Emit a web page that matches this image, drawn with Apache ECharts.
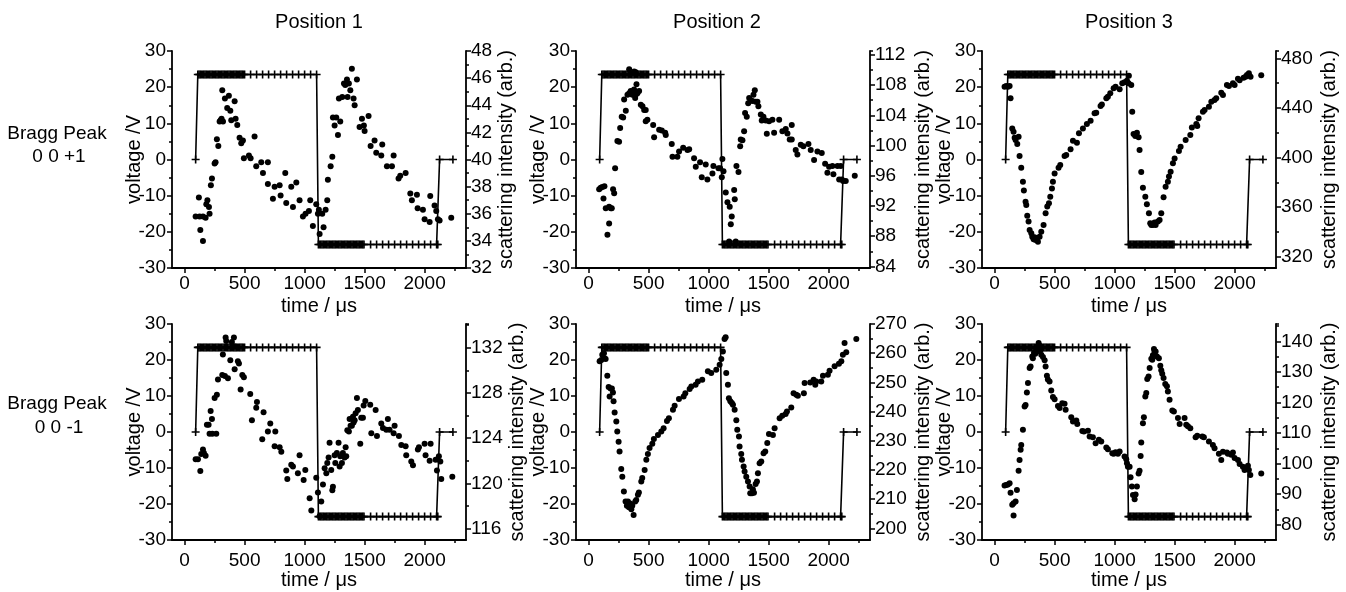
<!DOCTYPE html>
<html><head><meta charset="utf-8">
<script src="https://cdn.jsdelivr.net/npm/echarts@6/dist/echarts.min.js"></script>
<style>html,body{margin:0;padding:0;background:#fff}#c{width:1346px;height:592px}</style>
</head><body><div id="c"></div>
<script>
// ---- applied voltage (square wave, shared by all panels) ----
const voltTime = [92,110,120,130,140,150,160,170,180,190,200,210,220,230,240,250,260,270,280,290,300,310,320,330,340,350,360,370,380,390,400,410,420,430,440,450,460,470,480,490,500,550,600,650,700,750,800,850,900,950,1000,1050,1100,
1115,1125,1135,1145,1155,1165,1175,1185,1195,1205,1215,1225,1235,1245,1255,1265,1275,1285,1295,1305,1315,1325,1335,1345,1355,1365,1375,1385,1395,1405,1415,1425,1435,1445,1455,1465,1475,1485,1495,1550,1600,1650,1700,1750,1800,1850,1900,1950,2000,2050,2100,2110,2125,2236];
const voltValue = [0,23.5,23.5,23.5,23.5,23.5,23.5,23.5,23.5,23.5,23.5,23.5,23.5,23.5,23.5,23.5,23.5,23.5,23.5,23.5,23.5,23.5,23.5,23.5,23.5,23.5,23.5,23.5,23.5,23.5,23.5,23.5,23.5,23.5,23.5,23.5,23.5,23.5,23.5,23.5,23.5,23.5,23.5,23.5,23.5,23.5,23.5,23.5,23.5,23.5,23.5,23.5,23.5,
-23.5,-23.5,-23.5,-23.5,-23.5,-23.5,-23.5,-23.5,-23.5,-23.5,-23.5,-23.5,-23.5,-23.5,-23.5,-23.5,-23.5,-23.5,-23.5,-23.5,-23.5,-23.5,-23.5,-23.5,-23.5,-23.5,-23.5,-23.5,-23.5,-23.5,-23.5,-23.5,-23.5,-23.5,-23.5,-23.5,-23.5,-23.5,-23.5,-23.5,-23.5,-23.5,-23.5,-23.5,-23.5,-23.5,-23.5,-23.5,-23.5,-23.5,-23.5,-23.5,0,0];

// ---- tick labels ----
const timeTicks = [0,500,1000,1500,2000];
const timeMinorTicks = [250,750,1250,1750,2250];
const voltTicks = [-30,-20,-10,0,10,20,30];
const pos1UpTicks = [32,34,36,38,40,42,44,46,48];
const pos1UpMinor = [33,35,37,39,41,43,45,47];
const pos2UpTicks = [84,88,92,96,100,104,108,112];
const pos2UpMinor = [86,90,94,98,102,106,110];
const pos3UpTicks = [320,360,400,440,480];
const pos3UpMinor = [340,380,420,460];
const pos1DownTicks = [116,120,124,128,132];
const pos1DownMinor = [118,122,126,130,134];
const pos2DownTicks = [200,210,220,230,240,250,260,270];
const pos2DownMinor = [205,215,225,235,245,255,265];
const pos3DownTicks = [80,90,100,110,120,130,140];
const pos3DownMinor = [85,95,105,115,125,135,145];

const columnTitles = ['Position 1','Position 2','Position 3'];
const rowTitles = [['Bragg Peak','0 0 +1'],['Bragg Peak','0 0 -1']];

// ---- scattering intensity [time µs, intensity arb.] ----
const pos1Up = [[92,35.8],[119,37.2],[125,35.8],[131,34.8],[153,35.8],[153,34.0],[175,35.7],[181,36.7],[190,37.0],[203,36.5],[208,36.0],[219,38.1],[228,38.6],[250,39.7],[258,39.8],[269,41.5],[281,41.0],[292,42.8],[300,42.9],[308,43.0],[314,45.1],[320,42.8],[336,44.5],[355,43.8],[369,44.7],[381,43.6],[389,42.9],[417,44.3],[425,43.0],[439,42.55],[458,41.6],[472,41.2],[486,41.4],[494,40.1],[536,40.3],[550,40.1],[583,41.7],[597,39.5],[639,39.8],[653,39.0],[694,38.2],[694,39.8],[736,37.1],[750,38.0],[792,38.1],[800,37.35],[839,39.0],[847,36.8],[889,38.0],[903,36.5],[931,38.3],[958,37.0],[986,35.8],[1008,36.0],[1036,36.2],[1047,37.0],[1069,35.1],[1097,36.7],[1111,36.0],[1119,36.3],[1125,34.5],[1147,36.0],[1158,35.0],[1175,36.3],[1189,37.0],[1194,38.5],[1217,39.5],[1231,40.2],[1236,43.1],[1250,42.5],[1264,43.1],[1278,41.8],[1286,44.5],[1297,42.8],[1314,44.6],[1328,45.6],[1339,45.5],[1353,45.9],[1358,44.6],[1369,45.6],[1381,45.1],[1394,46.7],[1408,44.5],[1417,44.0],[1436,45.9],[1458,42.4],[1478,43.0],[1494,42.5],[1500,42.1],[1533,43.2],[1550,41.0],[1583,41.4],[1597,40.5],[1639,40.3],[1647,41.1],[1686,39.5],[1728,39.5],[1742,40.3],[1783,38.6],[1797,38.8],[1842,39.0],[1881,37.5],[1894,37.0],[1936,37.4],[1942,36.4],[1986,36.3],[2000,35.6],[2042,35.4],[2047,37.3],[2083,36.6],[2097,36.2],[2111,35.6],[2125,35.5],[2222,35.7]];

const pos2Up = [[88,94.2],[101,94.4],[115,94.5],[124,93.0],[132,94.6],[143,91.7],[157,88.2],[171,91.9],[171,89.7],[185,91.7],[193,91.7],[204,94.2],[213,93.7],[221,97.0],[240,100.6],[254,100.5],[263,102.3],[276,103.8],[288,103.7],[296,106.1],[310,104.6],[324,106.7],[338,106.9],[351,107.2],[365,106.7],[374,107.0],[379,107.4],[388,106.3],[393,106.7],[399,108.1],[407,106.9],[421,107.2],[435,105.4],[449,105.2],[463,104.7],[476,104.7],[476,103.2],[490,103.4],[338,110.1],[380,109.8],[393,109.7],[538,102.7],[546,101.1],[588,102.1],[610,102.0],[638,101.7],[643,101.4],[693,100.2],[699,98.5],[740,98.5],[754,99.2],[788,99.7],[824,99.4],[838,99.5],[879,98.3],[893,97.2],[929,97.8],[943,95.8],[976,97.5],[990,95.5],[1032,96.3],[1040,97.3],[1082,97.0],[1096,97.0],[1115,98.2],[1110,95.8],[1124,96.6],[1143,93.8],[1157,92.5],[1171,87.3],[1176,91.9],[1185,89.6],[1193,90.6],[1213,94.1],[1218,92.9],[1226,87.3],[1232,97.3],[1249,96.5],[1263,99.9],[1268,100.8],[1282,100.7],[1296,101.9],[1304,104.3],[1318,103.8],[1330,105.6],[1338,106.3],[1351,106.0],[1365,105.9],[1374,106.7],[1385,107.3],[1393,105.8],[1407,105.8],[1415,105.2],[1435,104.1],[1443,103.3],[1457,103.8],[1476,103.3],[1485,101.55],[1504,103.2],[1532,103.4],[1546,101.7],[1588,103.4],[1615,101.9],[1643,102.2],[1657,101.6],[1676,100.8],[1693,102.7],[1693,100.8],[1726,99.4],[1740,98.8],[1768,100.1],[1790,99.9],[1832,100.2],[1851,99.4],[1879,98.1],[1907,99.2],[1943,99.0],[1971,97.6],[1990,96.4],[2004,97.2],[2032,97.3],[2040,96.2],[2074,97.3],[2088,95.5],[2101,97.3],[2110,95.5],[2121,95.3],[2143,95.3],[2218,96.0]];

const pos3Up = [[83,457.2],[97,457.8],[111,457.2],[125,457.8],[133,447.8],[147,423.6],[158,420.9],[167,416.1],[175,414.2],[189,411.0],[200,416.9],[208,401.3],[222,391.9],[236,380.6],[244,373.4],[258,364.5],[264,361.8],[272,353.2],[283,348.4],[292,341.6],[306,339.0],[314,336.3],[325,334.1],[333,335.7],[342,333.6],[353,335.0],[361,332.2],[375,336.3],[389,340.3],[408,345.7],[425,355.1],[439,360.5],[453,363.2],[464,368.5],[478,375.2],[486,380.6],[500,387.3],[533,391.9],[547,394.0],[583,401.3],[597,402.1],[633,406.7],[653,413.7],[686,412.1],[703,419.6],[736,423.6],[769,427.1],[800,429.8],[833,435.7],[847,436.3],[883,441.6],[894,442.9],[931,447.8],[944,449.2],[964,451.9],[992,455.9],[1008,457.2],[1042,455.1],[1064,459.9],[1083,460.7],[1103,462.1],[1117,459.9],[1119,466.1],[1139,458.6],[1147,437.1],[1158,419.1],[1172,417.5],[1186,420.1],[1200,416.4],[1208,406.2],[1222,388.4],[1236,375.8],[1256,368.5],[1269,362.4],[1286,355.1],[1297,347.1],[1306,345.7],[1319,345.7],[1333,347.6],[1342,345.7],[1361,348.4],[1375,349.8],[1389,355.1],[1408,368.0],[1425,376.6],[1444,380.6],[1453,384.7],[1467,388.7],[1486,395.4],[1500,399.4],[1536,405.4],[1550,408.8],[1592,414.2],[1631,418.3],[1644,424.4],[1681,427.1],[1689,425.5],[1700,431.7],[1736,437.1],[1750,438.4],[1786,441.1],[1806,445.1],[1833,446.5],[1847,447.8],[1889,452.4],[1903,450.5],[1936,458.6],[1953,457.8],[1986,459.9],[2000,458.6],[2028,463.7],[2042,462.4],[2075,464.5],[2092,465.3],[2103,466.6],[2119,468.0],[2133,465.3],[2222,466.4]];

const pos1Down = [[92,122.15],[111,122.15],[131,121.1],[139,122.6],[153,123.0],[161,122.7],[175,122.45],[186,125.2],[200,125.2],[208,124.4],[217,126.4],[228,125.7],[231,124.4],[250,127.55],[264,124.4],[269,127.85],[278,129.2],[314,129.6],[319,131.4],[336,129.5],[342,132.9],[347,132.6],[361,129.3],[381,130.9],[394,132.5],[411,132.9],[417,132.1],[417,130.1],[444,130.8],[453,130.6],[467,128.3],[481,129.6],[494,129.4],[547,127.9],[561,125.6],[597,126.7],[603,127.2],[647,123.9],[658,126.3],[694,124.6],[714,125.3],[756,124.6],[750,123.3],[792,123.2],[806,122.8],[847,121.15],[856,120.4],[889,121.65],[903,121.5],[944,120.9],[958,122.5],[992,120.3],[1006,121.2],[1042,118.7],[1056,117.6],[1097,120.5],[1111,119.2],[1125,117.1],[1139,118.4],[1153,119.9],[1167,121.35],[1181,120.9],[1189,121.8],[1200,122.3],[1208,123.6],[1222,121.2],[1231,119.4],[1236,119.7],[1250,122.5],[1256,121.8],[1269,122.7],[1283,123.6],[1292,121.5],[1297,122.4],[1311,121.8],[1319,122.7],[1333,122.3],[1342,123.2],[1347,122.4],[1356,124.7],[1369,124.6],[1375,125.7],[1383,125.1],[1394,125.1],[1403,125.9],[1408,125.4],[1417,125.6],[1425,126.2],[1436,127.55],[1444,126.5],[1464,123.5],[1472,125.8],[1486,125.8],[1492,126.9],[1506,127.3],[1547,126.95],[1556,124.45],[1592,126.5],[1603,124.2],[1639,125.3],[1653,124.9],[1681,124.75],[1694,125.7],[1708,124.75],[1742,124.45],[1750,125.1],[1786,124.2],[1806,123.4],[1842,123.3],[1847,122.5],[1889,121.95],[1903,121.6],[1944,123.0],[1953,123.2],[2000,123.5],[2008,122.5],[2050,123.5],[2042,122.0],[2092,122.1],[2103,121.15],[2119,122.4],[2131,121.95],[2139,120.4],[2231,120.6]];

const pos2Down = [[92,257.2],[106,257.7],[114,259.5],[128,260.0],[133,258.3],[142,258.0],[156,252.3],[167,248.4],[175,245.2],[183,247.9],[194,247.9],[203,246.5],[208,243.5],[217,239.7],[231,236.6],[239,233.2],[250,229.7],[258,226.3],[272,220.3],[281,217.7],[294,212.6],[308,209.2],[319,207.7],[328,209.2],[336,207.2],[347,208.5],[356,206.5],[364,207.7],[375,204.6],[389,209.2],[397,209.7],[411,211.5],[419,212.3],[439,216.0],[447,217.2],[467,220.0],[481,223.5],[494,225.5],[508,227.5],[531,229.0],[544,230.6],[578,232.0],[606,233.2],[625,234.3],[653,236.8],[669,237.75],[703,240.6],[717,242.0],[753,244.3],[792,245.2],[806,246.3],[842,247.7],[856,248.6],[892,249.2],[911,250.3],[947,250.9],[994,253.8],[1022,253.2],[1064,254.3],[1092,256.0],[1106,258.0],[1119,260.6],[1133,264.9],[1142,265.5],[1147,253.2],[1161,249.2],[1169,244.6],[1181,243.5],[1194,242.9],[1203,242.3],[1217,240.6],[1231,237.0],[1239,233.8],[1253,231.5],[1258,228.0],[1272,225.5],[1278,223.5],[1292,221.2],[1300,219.5],[1314,217.7],[1328,216.0],[1342,214.3],[1347,212.0],[1361,212.0],[1369,213.4],[1378,212.2],[1392,215.2],[1403,216.0],[1411,218.9],[1425,222.3],[1439,222.9],[1458,225.7],[1472,226.3],[1489,229.2],[1503,232.3],[1536,232.0],[1550,234.3],[1592,237.75],[1614,238.6],[1642,239.2],[1653,240.0],[1689,241.4],[1708,246.3],[1731,245.8],[1744,245.4],[1794,246.3],[1800,249.8],[1847,250.0],[1875,250.9],[1889,249.2],[1897,250.3],[1939,250.3],[1953,252.3],[1994,252.6],[2008,254.0],[2050,255.5],[2086,256.4],[2106,257.2],[2119,259.5],[2133,263.5],[2147,260.3],[2231,264.9]];

const pos3Down = [[83,92.8],[97,93.0],[111,93.2],[125,93.6],[133,90.5],[147,86.5],[158,87.0],[158,83.0],[175,87.6],[186,91.4],[200,97.7],[208,101.2],[217,104.5],[222,106.1],[236,111.1],[250,118.7],[258,119.2],[269,123.3],[278,126.4],[292,131.3],[300,131.8],[314,135.1],[319,134.5],[328,136.2],[339,136.0],[347,137.5],[356,136.8],[367,139.5],[375,138.6],[383,137.3],[389,135.6],[403,134.9],[417,133.8],[425,131.8],[436,128.8],[444,127.5],[458,126.9],[472,123.9],[486,121.8],[500,121.1],[528,118.9],[542,118.2],[564,119.8],[583,119.6],[592,117.6],[639,115.2],[653,113.8],[681,114.1],[689,113.0],[731,110.7],[744,110.5],[778,110.8],[792,108.9],[819,108.65],[842,106.7],[869,107.8],[889,107.2],[931,105.3],[944,104.7],[981,103.4],[992,103.2],[1008,103.7],[1028,103.2],[1042,104.0],[1083,102.3],[1097,101.4],[1103,100.1],[1111,99.0],[1125,99.0],[1133,95.5],[1144,92.5],[1153,89.7],[1167,88.3],[1175,89.9],[1186,92.5],[1200,96.8],[1208,97.7],[1217,102.5],[1222,106.9],[1236,113.2],[1244,115.2],[1256,122.0],[1264,123.1],[1272,127.7],[1283,128.5],[1292,131.3],[1306,134.3],[1314,134.0],[1319,135.5],[1328,137.5],[1333,136.7],[1342,136.7],[1353,135.1],[1369,134.5],[1381,132.0],[1389,130.6],[1397,129.4],[1408,128.0],[1422,126.1],[1436,125.3],[1444,123.6],[1458,120.9],[1481,117.4],[1494,117.1],[1528,114.9],[1542,113.0],[1583,114.9],[1597,112.7],[1611,112.2],[1631,111.6],[1675,108.65],[1689,109.1],[1731,108.9],[1744,108.65],[1786,107.2],[1819,106.1],[1833,105.0],[1869,103.2],[1889,101.2],[1903,103.9],[1936,103.6],[1944,103.2],[1972,102.9],[1986,103.6],[2000,101.8],[2028,101.2],[2042,99.9],[2069,99.0],[2083,97.9],[2097,98.5],[2111,99.3],[2119,97.9],[2131,96.3],[2222,96.8]];

// ---- layout ----
const FONT = '"Liberation Sans", Arial, sans-serif';
const BLACK = '#000';
const panels = [
  {data: pos1Up, ticks: pos1UpTicks, minor: pos1UpMinor, min: 32, max: 48, left: 172, top: 51, h: 217, rGap: 30, row: 0},
  {data: pos2Up, ticks: pos2UpTicks, minor: pos2UpMinor, min: 83.8, max: 112.5, left: 576, top: 51, h: 217, rGap: 43, row: 0},
  {data: pos3Up, ticks: pos3UpTicks, minor: pos3UpMinor, min: 311, max: 486, left: 982, top: 51, h: 217, rGap: 43, row: 0},
  {data: pos1Down, ticks: pos1DownTicks, minor: pos1DownMinor, min: 115, max: 134.1, left: 172, top: 324, h: 216, rGap: 41, row: 1},
  {data: pos2Down, ticks: pos2DownTicks, minor: pos2DownMinor, min: 196, max: 270, left: 576, top: 324, h: 216, rGap: 43, row: 1},
  {data: pos3Down, ticks: pos3DownTicks, minor: pos3DownMinor, min: 75, max: 145.7, left: 982, top: 324, h: 216, rGap: 43, row: 1}
];
const W = 294, XMIN = -105, XMAX = 2345;
const cross = 'path://M0,3.2H8V4.8H0Z M3.2,0H4.8V8H3.2Z';
const lineStyle = {color: BLACK, width: 1.8};
const tickStyle = {color: BLACK, width: 1.5};
const labelStyle = {color: BLACK, fontSize: 19, fontFamily: FONT, formatter: v => String(v)};
const nameStyle = {color: BLACK, fontSize: 20, fontFamily: FONT};

const grid = [], xAxis = [], yAxis = [], series = [];
const voltData = voltTime.map((t, k) => [t, voltValue[k]]);

panels.forEach((p, i) => {
  grid.push({left: p.left, top: p.top, width: W, height: p.h});
  xAxis.push({
    gridIndex: i, type: 'value', position: 'bottom', min: XMIN, max: XMAX,
    axisLine: {show: true, onZero: false, lineStyle},
    axisTick: {show: true, inside: false, length: 5, lineStyle: tickStyle, customValues: timeTicks},
    axisLabel: {...labelStyle, margin: p.row === 0 ? 6 : 11, customValues: timeTicks},
    splitLine: {show: false},
    name: 'time / \u03bcs', nameLocation: 'middle', nameGap: p.row === 0 ? 28 : 28, nameTextStyle: nameStyle
  });
  xAxis.push({
    gridIndex: i, type: 'value', position: 'bottom', min: XMIN, max: XMAX,
    axisLine: {show: false, onZero: false}, axisLabel: {show: false}, splitLine: {show: false},
    axisTick: {show: true, inside: false, length: 3, lineStyle: tickStyle, customValues: timeMinorTicks}
  });
  yAxis.push({
    gridIndex: i, type: 'value', position: 'left', min: -30, max: 30, interval: 10,
    axisLine: {show: true, onZero: false, lineStyle},
    axisTick: {show: true, inside: false, length: 5, lineStyle: tickStyle},
    minorTick: {show: true, splitNumber: 2, length: 3, lineStyle: tickStyle},
    axisLabel: {...labelStyle, margin: 6, customValues: voltTicks},
    splitLine: {show: false}, minorSplitLine: {show: false},
    name: 'voltage /V', nameLocation: 'middle', nameRotate: 90, nameGap: 28, nameMoveOverlap: false, nameTextStyle: nameStyle
  });
  yAxis.push({
    gridIndex: i, type: 'value', position: 'right', min: p.min, max: p.max,
    axisLine: {show: true, onZero: false, lineStyle},
    axisTick: {show: true, inside: false, length: 5, lineStyle: tickStyle, customValues: p.ticks},
    axisLabel: {...labelStyle, margin: 5, customValues: p.ticks},
    splitLine: {show: false},
    name: 'scattering intensity (arb.)', nameLocation: 'middle', nameRotate: 90, nameGap: p.rGap, nameTextStyle: nameStyle
  });
  yAxis.push({
    gridIndex: i, type: 'value', position: 'right', min: p.min, max: p.max,
    axisLine: {show: false, onZero: false}, axisLabel: {show: false}, splitLine: {show: false},
    axisTick: {show: true, inside: false, length: 3, lineStyle: tickStyle, customValues: p.minor.concat([p.max])}
  });
  series.push({
    type: 'line', xAxisIndex: 2 * i, yAxisIndex: 3 * i, data: voltData,
    symbol: cross, symbolSize: 8, showAllSymbol: true, showSymbol: true,
    lineStyle: {color: BLACK, width: 1.6}, itemStyle: {color: BLACK, opacity: 1},
    emphasis: {disabled: true}, z: 2
  });
  series.push({
    type: 'scatter', xAxisIndex: 2 * i, yAxisIndex: 3 * i + 1, data: p.data,
    symbol: 'circle', symbolSize: 6, itemStyle: {color: BLACK, opacity: 1},
    emphasis: {disabled: true}, z: 3
  });
});

const graphic = [];
const titleX = [319, 717, 1129];
columnTitles.forEach((t, k) => graphic.push({type: 'text', x: titleX[k], y: 22,
  style: {text: t, fill: BLACK, font: '20px ' + FONT, textAlign: 'center', textVerticalAlign: 'middle', align: 'center', verticalAlign: 'middle'}}));
const rowY = [[134, 157], [404, 428]];
rowTitles.forEach((lines, r) => lines.forEach((t, j) => graphic.push({type: 'text', x: j === 0 ? 57 : 59, y: rowY[r][j],
  style: {text: t, fill: BLACK, font: '19px ' + FONT, textAlign: 'center', textVerticalAlign: 'middle', align: 'center', verticalAlign: 'middle'}})));

const chart = echarts.init(document.getElementById('c'), null, {renderer: 'canvas'});
chart.setOption({animation: false, backgroundColor: '#fff', grid, xAxis, yAxis, series, graphic});
</script></body></html>
